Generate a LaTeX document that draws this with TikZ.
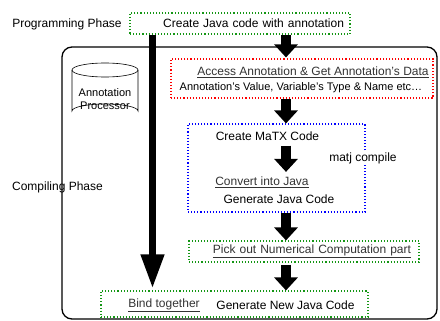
\documentclass[tikz,border=0pt]{standalone}
\usepackage{fontspec}
\setmainfont{Liberation Sans}
\usetikzlibrary{arrows.meta,calc}

\definecolor{dotgreen}{RGB}{20,150,20}
\newcommand{\grayul}[1]{{\color{black!80}\underline{#1}}}

\begin{document}
\begin{tikzpicture}[x=1pt, y=-1pt,
    lbl/.style={inner sep=0pt, font=\fontsize{12}{14}\selectfont},
    small/.style={inner sep=0pt, font=\fontsize{11}{13}\selectfont},
    dotbox/.style={draw, dotted, line width=1.1pt, inner sep=0pt, font=\fontsize{12}{14}\selectfont},
    fat/.style={-{Triangle[width=23pt,length=13pt]}, line width=10pt},
    tall/.style={-{Triangle[width=22pt,length=34pt]}, line width=7pt}
]
\useasboundingbox (0,0) rectangle (440,321);

% compiling frame and processor
\node[draw, line width=1.3pt, rounded corners=10pt, minimum width=375pt, minimum height=272pt] (frame) at (249.5,183) {};
\draw[line width=0.6pt, fill=white] (72,70) -- (72,111) arc[start angle=180, end angle=360, x radius=33, y radius=7] -- (138,70);
\draw[line width=0.6pt] (105,70) ellipse[x radius=33, y radius=7];
\node[small, align=center] (proc) at (105,99) {Annotation\\Processor};

% phases
\node[lbl] (prog) at (67,24) {Programming Phase};
\node[lbl] (comp) at (57.5,187) {Compiling Phase};

% boxes
\node[dotbox, dotgreen, text=black, minimum width=220pt, minimum height=21pt, text width=208pt, align=right] (java) at (240,23.5) {Create Java code with annotation};
\node[dotbox, red, minimum width=262pt, minimum height=39pt] (access) at (302,78.5) {};
\node[lbl] (accesst) at (313,72) {\grayul{Access Annotation \& Get Annotation's Data}};
\node[small] (accessv) at (301,88) {Annotation's Value, Variable's Type \& Name etc…};

\node[dotbox, blue, minimum width=177pt, minimum height=88pt] (matx) at (276.5,168) {};
\node[lbl] (create) at (267.5,136) {Create MaTX Code};
\node[lbl, fill=white, inner xsep=1pt] (matj) at (363,158) {matj compile};
\node[lbl] (convert) at (262,182) {\grayul{Convert into Java}};
\node[lbl] (genjava) at (279,199) {Generate Java Code};

\node[dotbox, dotgreen, text=black, minimum width=230pt, minimum height=21pt, text width=214pt, align=right] (pick) at (304,251.5) {\grayul{Pick out Numerical Computation part}};

\node[dotbox, dotgreen, minimum width=267pt, minimum height=26pt] (bind) at (234.5,304) {};
\node[lbl] (bindt) at (164,305) {\grayul{Bind together}};
\node[lbl] (gennew) at (285.5,305) {Generate New Java Code};

% arrows
\coordinate (col) at (286,0);
\coordinate (split) at (152.5,0);
\draw[tall, shorten >=2pt] (java.south -| split) -- (split |- bind.north);
\draw[fat, shorten >=1pt] (java.south -| col) -- (col |- access.north);
\draw[fat] (access.south -| col) -- (col |- matx.north);
\draw[fat, shorten <=5pt, shorten >=4.5pt] (create.south -| col) -- (col |- convert.north);
\draw[fat] (matx.south -| col) -- (col |- pick.north);
\draw[fat, shorten <=2pt] (pick.south -| col) -- (col |- bind.north);
\end{tikzpicture}
\end{document}
